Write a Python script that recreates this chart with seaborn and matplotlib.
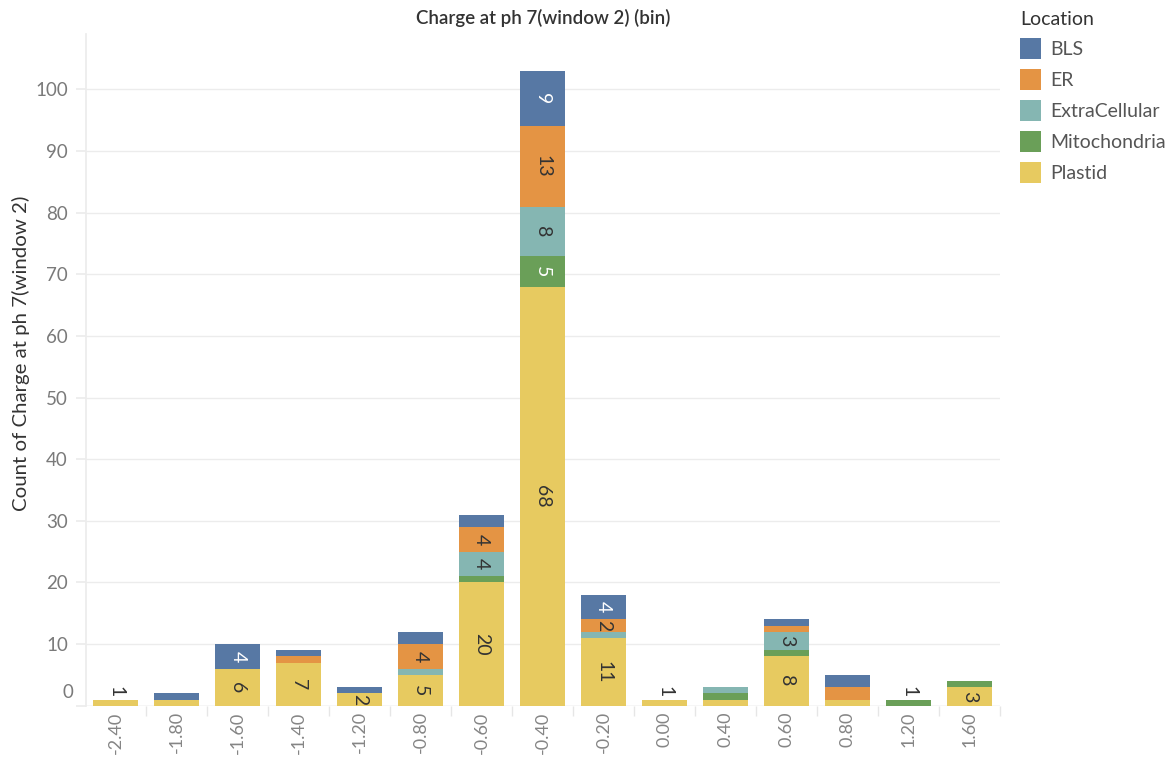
import numpy as np
import pandas as pd
import matplotlib
matplotlib.use("Agg")
import matplotlib.pyplot as plt
import matplotlib.transforms as mtrans
from matplotlib.patches import Patch
import seaborn as sns

# ---------------- data ----------------
bins = ["-2.40", "-1.80", "-1.60", "-1.40", "-1.20", "-0.80", "-0.60", "-0.40",
        "-0.20", "0.00", "0.40", "0.60", "0.80", "1.20", "1.60"]
plastid = [1, 1, 6, 7, 2, 5, 20, 68, 11, 1, 1, 8, 1, 0, 3]
mitochondria = [0, 0, 0, 0, 0, 0, 1, 5, 0, 0, 1, 1, 0, 1, 1]
extracellular = [0, 0, 0, 0, 0, 1, 4, 8, 1, 0, 1, 3, 0, 0, 0]
er = [0, 0, 0, 1, 0, 4, 4, 13, 2, 0, 0, 1, 2, 0, 0]
bls = [0, 1, 4, 1, 1, 2, 2, 9, 4, 0, 0, 1, 2, 0, 0]

locations = ["BLS", "ER", "ExtraCellular", "Mitochondria", "Plastid"]
series = {"Plastid": plastid, "Mitochondria": mitochondria,
          "ExtraCellular": extracellular, "ER": er, "BLS": bls}
stack_order = ["Plastid", "Mitochondria", "ExtraCellular", "ER", "BLS"]

# which segments carry a visible mark label (as in the reference)
labelled = {
    "Plastid": ["-2.40", "-1.60", "-1.40", "-1.20", "-0.80", "-0.60", "-0.40",
                "-0.20", "0.00", "0.60", "1.60"],
    "Mitochondria": ["-0.40", "1.20"],
    "ExtraCellular": ["-0.60", "-0.40", "0.60"],
    "ER": ["-0.80", "-0.60", "-0.40", "-0.20"],
    "BLS": ["-1.60", "-0.40", "-0.20"],
}

colors = {"BLS": "#5778a4", "ER": "#e49444", "ExtraCellular": "#85b6b2",
          "Mitochondria": "#6a9f58", "Plastid": "#e7ca60"}
label_text_color = {"BLS": "white", "ER": "#333333", "ExtraCellular": "#333333",
                    "Mitochondria": "white", "Plastid": "#333333"}

# ---------------- figure ----------------
sns.set_theme(style="white")
plt.rcParams["font.family"] = ["Lato", "DejaVu Sans"]

W, H = 1173, 760
fig = plt.figure(figsize=(W / 100, H / 100), dpi=100)
ax = fig.add_axes([86 / W, 1 - 705.7 / H, (1000 - 86) / W, (705.7 - 34) / H])

df = pd.DataFrame({"bin": bins})
for loc in stack_order:
    df[loc] = series[loc]
cum = df[stack_order].cumsum(axis=1)

# draw cumulative totals from the top layer down so each overlays the next
for loc in reversed(stack_order):
    layer = pd.DataFrame({"bin": bins, "value": cum[loc]})
    sns.barplot(data=layer, x="bin", y="value", order=bins, color=colors[loc],
                saturation=1, width=0.74, linewidth=0, ax=ax, errorbar=None)

# mark labels
for i, b in enumerate(bins):
    total = cum.loc[i, "BLS"]
    for loc in stack_order:
        v = series[loc][i]
        if v == 0 or b not in labelled[loc]:
            continue
        top = cum.loc[i, loc]
        if v == total and v == 1:
            y = total + 1.3
            col = "#333333"
        else:
            y = top - v / 2
            col = label_text_color[loc]
        ax.text(i, y, str(v), rotation=-90, ha="center", va="center",
                fontsize=14, color=col)

ax.set_xlim(-0.49, len(bins) - 0.505)
ax.set_ylim(0, 109)
ax.set_yticks(np.arange(0, 101, 10))
ax.set_yticklabels([""] + [str(t) for t in range(10, 101, 10)])
ax.grid(axis="y", color="#ececec", linewidth=1)
ax.set_axisbelow(True)
for s in ["top", "right", "bottom"]:
    ax.spines[s].set_visible(False)
ax.spines["left"].set_color("#ececec")
ax.axhline(0, color="#e2e2e2", linewidth=1, zorder=0.5)

ax.tick_params(axis="y", length=7, color="#ececec", labelsize=13.5,
               labelcolor="#7a7a7a", pad=6, left=True)
ax.tick_params(axis="x", length=0, labelsize=13, labelcolor="#858585", pad=4,
               labelrotation=90)
ax.set_xticks(np.arange(len(bins)) + 0.5, minor=True)
ax.tick_params(axis="x", which="minor", length=7, color="#e6e6e6", bottom=True)
ax.set_xlabel("")

# "0" label sits a little above the baseline in the reference
zero_tr = ax.get_yaxis_transform() + mtrans.ScaledTranslation(0, 13 / 100, fig.dpi_scale_trans)
ax.text(-13 / 914, 0, "0", transform=zero_tr, ha="right", va="center",
        fontsize=13.5, color="#7a7a7a")

ax.set_ylabel("Count of Charge at ph 7(window 2)", fontsize=14.7, color="#333333")
ax.yaxis.set_label_coords(-56 / 914, 0.525)

fig.text(543 / W, 1 - 18 / H, "Charge at ph 7(window 2) (bin)", ha="center",
         va="center", fontsize=13.5, fontweight="semibold", color="#333333")

handles = [Patch(facecolor=colors[l], edgecolor="none", label=l) for l in locations]
leg = fig.legend(handles=handles, title="Location", loc="upper left",
                 bbox_to_anchor=(1012 / W, 1 - 3 / H), frameon=False,
                 fontsize=14, title_fontsize=14, handlelength=1.08,
                 handleheight=1.28, handletextpad=0.5, labelspacing=0.52,
                 alignment="left", borderaxespad=0)
for t in leg.get_texts():
    t.set_color("#555555")
leg.get_title().set_color("#333333")

fig.savefig("out.png", dpi=100)
